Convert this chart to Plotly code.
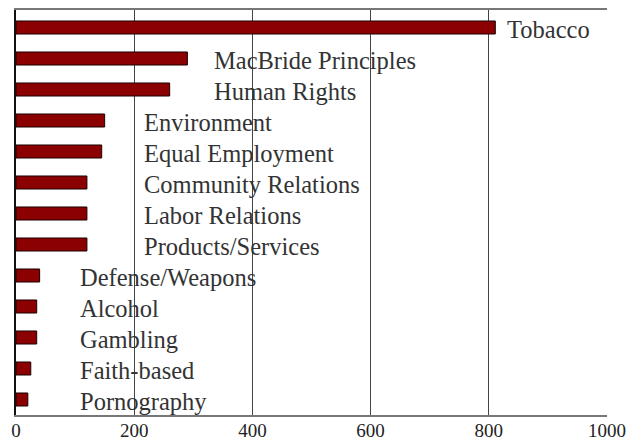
import plotly.graph_objects as go

categories = ["Tobacco", "MacBride Principles", "Human Rights", "Environment",
              "Equal Employment", "Community Relations", "Labor Relations",
              "Products/Services", "Defense/Weapons", "Alcohol", "Gambling",
              "Faith-based", "Pornography"]
values = [811, 290, 260, 150, 145, 120, 120, 120, 40, 35, 35, 25, 20]
tick_vals = [0, 200, 400, 600, 800, 1000]
tick_text = ["0", "200", "400", "600", "800", "1000"]

# label anchor positions (x data units), as placed in the original
label_x = [827, 332, 332, 214, 214, 214, 214, 214, 105, 105, 105, 105, 105]

fig = go.Figure()
fig.add_trace(go.Bar(
    x=values, y=categories, orientation="h",
    marker=dict(color="#8B0000", line=dict(color="#1a0000", width=1)),
    hoverinfo="skip",
))

for cat, lx in zip(categories, label_x):
    fig.add_annotation(x=lx, y=cat, text=cat, showarrow=False,
                       xanchor="left", yanchor="middle", yshift=-2,
                       font=dict(family="Liberation Serif", size=24.5, color="#333333"))

fig.update_layout(
    width=638, height=442,
    margin=dict(l=16, r=31, t=10, b=27),
    paper_bgcolor="white", plot_bgcolor="white",
    bargap=0.58, showlegend=False,
    xaxis=dict(range=[0, 1000], tickvals=tick_vals, ticktext=tick_text,
               automargin=False, ticklabelstandoff=-3,
               showgrid=True, gridcolor="#444444", gridwidth=1,
               zeroline=False, showline=True, linecolor="#777777", linewidth=2,
               mirror=True, ticks="",
               tickfont=dict(family="Liberation Serif", size=19, color="#222222")),
    yaxis=dict(autorange="reversed", showticklabels=False, showgrid=False,
               automargin=False,
               zeroline=False, showline=True, linecolor="#111111", linewidth=2,
               ticks=""),
)
fig.write_html("out.html", config={"displayModeBar": False, "staticPlot": True},
               post_script="document.body.style.margin='0px';document.body.style.padding='0px';")
